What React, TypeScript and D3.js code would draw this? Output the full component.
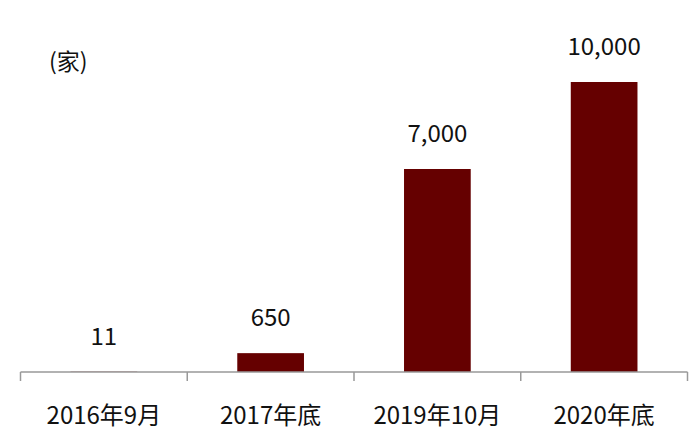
import React from "react";
import * as d3 from "d3";

const categories = ["2016年9月", "2017年底", "2019年10月", "2020年底"];
const values = [11, 650, 7000, 10000];
const valueLabels = ["11", "650", "7,000", "10,000"];
const unitLabel = "(家)";

export default function App() {
  const width = 700;
  const height = 445;
  const axisY = 372;
  const x = d3.scaleBand<string>().domain(categories).range([20.5, 687.5]).paddingInner(0.6).paddingOuter(0.3);
  const step = x.step();
  const y = d3.scaleLinear().domain([0, 10000]).range([axisY, 82]);
  const font = "'Noto Sans CJK SC', 'Noto Sans', sans-serif";
  const tickXs = categories.map((c) => (x(c) as number) - (step - x.bandwidth()) / 2);
  tickXs.push(tickXs[tickXs.length - 1] + step);
  return (
    <svg width={width} height={height} style={{ position: "absolute", left: 0, top: 0 }} fontFamily={font}>
      <rect width={width} height={height} fill="#fff" />
      <text x={49} y={70} fontSize={23} fill="#111">{unitLabel}</text>
      {categories.map((c, i) => (
        <rect key={c} x={x(c)} y={y(values[i])} width={x.bandwidth()} height={axisY - y(values[i])} fill="#650000" />
      ))}
      <line x1={20.5} x2={687.5} y1={axisY} y2={axisY} stroke="#999" strokeWidth={1.5} />
      {tickXs.map((t, i) => (
        <line key={i} x1={t} x2={t} y1={axisY} y2={381} stroke="#999" strokeWidth={1.5} />
      ))}
      {categories.map((c, i) => (
        <text key={c + "v"} x={(x(c) as number) + x.bandwidth() / 2} y={y(values[i]) - 27} textAnchor="middle" fontSize={24} fill="#111">{valueLabels[i]}</text>
      ))}
      {categories.map((c) => (
        <text key={c + "l"} x={(x(c) as number) + x.bandwidth() / 2} y={424} textAnchor="middle" fontSize={24} fill="#111">{c}</text>
      ))}
    </svg>
  );
}
